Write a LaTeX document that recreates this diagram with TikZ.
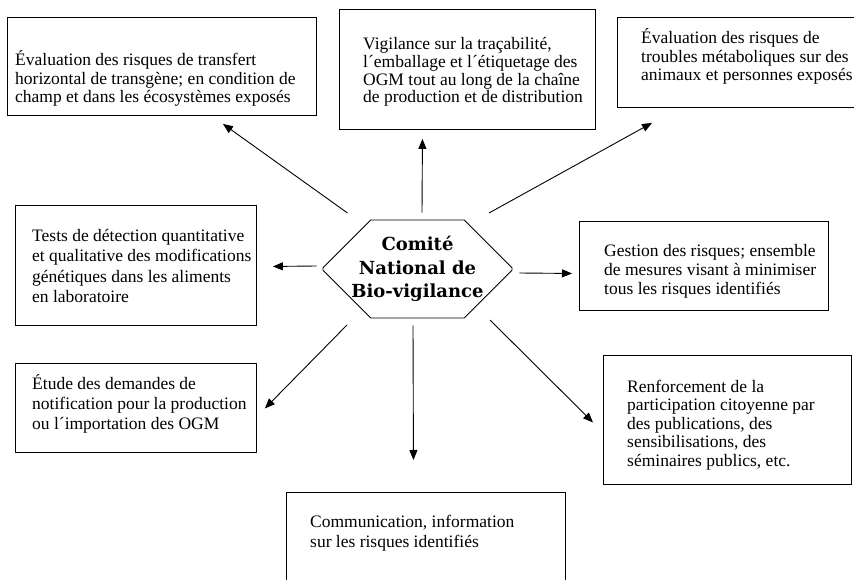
\documentclass[tikz,border=0pt]{standalone}
\usepackage{fontspec}
\setmainfont{Liberation Serif}
\newfontfamily\hubfont{DejaVu Serif}
\usetikzlibrary{calc,positioning,arrows.meta,shapes.misc}
\tikzset{
	%Define standard arrow tip
	>={Triangle[length=10pt,width=8pt]},
	%Define style for boxes
	boite/.style={
		rectangle,
		draw=black, line width=0.9pt,
		inner sep=0pt,
		anchor=north west},
	boitetexte/.style={
		anchor=base west,
		inner sep=0pt,
		align=left,
		font=\fontsize{17.5}{#1}\selectfont},
	boitetexte/.default=18.5,
	centre/.style={
		chamfered rectangle,
		chamfered rectangle xsep=29pt,
		chamfered rectangle ysep=29pt,
		draw=black, line width=0.9pt,
		minimum width=189pt,
		minimum height=98pt,
		inner xsep=0pt,
		inner ysep=-14pt,
		align=center,
		font=\hubfont\bfseries\fontsize{18}{23.5}\selectfont},
	% Define arrow style
	fleche/.style={
		->,
		line width=0.9pt}
}
\begin{document}
\begin{tikzpicture}[x=1pt,y=-1pt]
	\useasboundingbox (0,0) rectangle (854,580);
	\clip (0,0) rectangle (854,580);
	% node Comite
	\node[centre] (hub) at (417.5,269) {Comité\\National de\\Bio-vigilance};
	% node transfert
	\node[boite, minimum width=309pt, minimum height=98pt] (transfert) at (7,17) {};
	\node[boitetexte] (transferttxt) at (15,103) {Évaluation des risques de transfert\\horizontal de transgène; en condition de\\champ et dans les écosystèmes exposés};
	% node tracabilite
	\node[boite, minimum width=256pt, minimum height=120pt] (tracabilite) at (339,9) {};
	\node[boitetexte=17.7] (tracabilitetxt) at (363,103) {Vigilance sur la traçabilité,\\l´emballage et l´étiquetage des\\OGM tout au long de la chaîne\\de production et de distribution};
	% node metabolique
	\node[boite, minimum width=250pt, minimum height=90pt] (metab) at (617,17) {};
	\node[boitetexte] (metabtxt) at (641,81) {Évaluation des risques de\\troubles métaboliques sur des\\animaux et personnes exposés};
	% node detection
	\node[boite, minimum width=241pt, minimum height=120pt] (detection) at (15,205) {};
	\node[boitetexte=20.5] (detectiontxt) at (32,302.5) {Tests de détection quantitative\\et qualitative des modifications\\génétiques dans les aliments\\en laboratoire};
	% node gestion
	\node[boite, minimum width=249pt, minimum height=89pt] (gestion) at (579,221) {};
	\node[boitetexte] (gestiontxt) at (604,294) {Gestion des risques; ensemble\\de mesures visant à minimiser\\tous les risques identifiés};
	% node notification
	\node[boite, minimum width=241pt, minimum height=89pt] (notification) at (15,363) {};
	\node[boitetexte=20] (notificationtxt) at (32,429) {Étude des demandes de\\notification pour la production\\ou l´importation des OGM};
	% node participation
	\node[boite, minimum width=248pt, minimum height=129pt] (participation) at (603,355) {};
	\node[boitetexte] (participationtxt) at (627,466) {Renforcement de la\\participation citoyenne par\\des publications, des\\sensibilisations, des\\séminaires publics, etc.};
	% node communication
	\node[boite, minimum width=279pt, minimum height=100pt] (communication) at (286,492) {};
	\node[boitetexte=20] (communicationtxt) at (310,547) {Communication, information\\sur les risques identifiés};
	% arrows
	\draw[fleche] ($(hub)+(-70,-56)$) -- ($(transfert.south)+(61,8)$);
	\draw[fleche] ($(hub.north)+(4.5,-7)$) -- ($(tracabilite.south)+(-45,9)$);
	\draw[fleche] ($(hub)+(71.5,-56)$) -- ($(metab.south west)+(35,15)$);
	\draw[fleche] ($(hub.west)+(-6,-3)$) -- ($(detection.east)+(16,1)$);
	\draw[fleche] ($(hub.east)+(7,4)$) -- ($(gestion.west)+(-7,7.5)$);
	\draw[fleche] ($(hub)+(-70.5,56)$) -- ($(notification.east)+(8,0.5)$);
	\draw[fleche] ($(hub.south)+(-4.5,7)$) -- ($(communication.north)+(-12.5,-32)$);
	\draw[fleche] ($(hub)+(72.5,51)$) -- ($(participation.west)+(-10,2.5)$);
\end{tikzpicture}
\end{document}
